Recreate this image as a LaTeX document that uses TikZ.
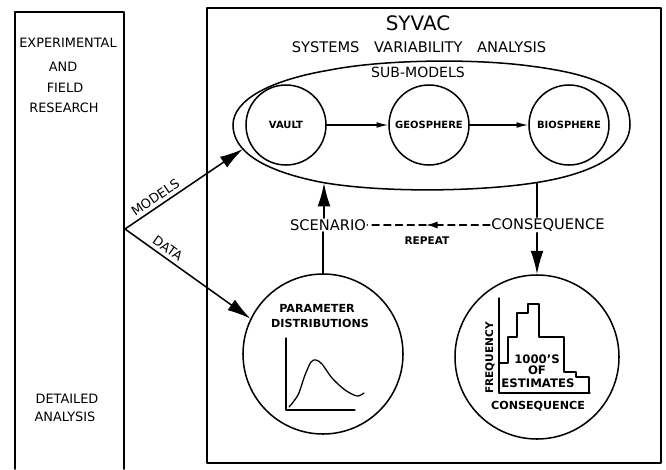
\documentclass[tikz,border=0pt]{standalone}
\usepackage{fontspec}
\setmainfont{DejaVu Sans}
\usetikzlibrary{arrows.meta}
\newcommand{\setfs}[1]{\fontsize{#1}{#1}\selectfont}

\begin{document}
\begin{tikzpicture}[line cap=round,line join=round,x=0.03cm,y=-0.03cm,
	box/.style={line width=1.4pt},
	sub/.style={circle,draw,line width=1.3pt,minimum size=2.4cm,inner sep=0pt,font=\setfs{8.5}\bfseries},
	ball/.style={circle,draw,line width=1.3pt,inner sep=0pt},
	txt/.style={inner sep=1pt,font=\setfs{12.5}},
	side/.style={inner sep=1pt,font=\setfs{11}},
	tiny/.style={inner sep=1pt,font=\setfs{9}\bfseries},
	lbl/.style={above=3pt,sloped,inner sep=0pt,font=\setfs{11}},
	bigtip/.style={line width=1.3pt,-{Latex[length=20pt,width=11pt]}},
	smalltip/.style={line width=1.1pt,-{Latex[length=10pt,width=5pt]}}]
	\useasboundingbox (0,0) rectangle (666,469);
	% frames
	\draw [box] (15,469) -- (15,12) -- (124,12) -- (124,469);
	\draw [box] (207,8) rectangle (661,463);
	\node [side] (exp) at (68,43) {EXPERIMENTAL};
	\node [side] (and) at (63,67) {AND};
	\node [side] (field) at (65,88) {FIELD};
	\node [side] (res) at (64,108) {RESEARCH};
	\node [side] (det) at (67,399) {DETAILED};
	\node [side] (ana) at (65,417) {ANALYSIS};
	\node [inner sep=1pt,font=\setfs{17}] (syvac) at (418,23) {SYVAC};
	\node [txt] (sva) at (419,47) {SYSTEMS\hspace{1em}VARIABILITY\hspace{1em}ANALYSIS};
	\node [inner sep=1pt,font=\setfs{12}] (submod) at (418,72) {SUB-MODELS};
	% sub-models
	\draw [line width=1.3pt] (233,125) .. controls (233,150) and (260,170) .. (320,182)
		.. controls (380,193) and (480,192) .. (540,182)
		.. controls (600,172) and (630,150) .. (630,125)
		.. controls (630,90) and (600,75) .. (530,66)
		.. controls (470,58) and (380,60) .. (330,70)
		.. controls (270,80) and (233,100) .. (233,125) -- cycle;
	\coordinate (subin) at (243,149);
	\coordinate (subbot) at (324,183);
	\coordinate (subout) at (537,183);
	\node [sub] (vault) at (286,125) {VAULT};
	\node [sub] (geo) at (429,125) {GEOSPHERE};
	\node [sub] (bio) at (569,125) {BIOSPHERE};
	\draw [smalltip] (vault) -- (geo);
	\draw [smalltip] (geo) -- (bio);
	% inputs
	\coordinate (src) at (125,229);
	\node [ball,minimum size=4.8cm] (param) at (323,354) {};
	\draw [bigtip] (src) -- node[pos=0.3,lbl] {MODELS} (subin);
	\draw [bigtip] (src) -- node[pos=0.3,lbl] {DATA} (param.154);
	% loop
	\node [txt] (scen) at (328,225) {SCENARIO};
	\node [txt] (cons) at (548,225) {CONSEQUENCE};
	\draw [line width=1.3pt] (param.north) -- (scen.south -| param.north);
	\draw [bigtip] (scen.north -| subbot) -- (subbot);
	\coordinate (rep) at (426,225);
	\draw [line width=1.1pt,dash pattern=on 6pt off 4pt,-{Latex[length=10pt,width=6pt]}] (cons.west) -- (rep);
	\draw [line width=1.1pt,dash pattern=on 6pt off 4pt] (rep) -- (scen.east);
	\node [tiny] (repeat) at (427,241) {REPEAT};
	\node [ball,minimum size=4.92cm] (result) at (537,357) {};
	\draw [line width=1.3pt] (subout) -- (subout |- cons.north);
	\draw [bigtip] (cons.south -| subout) -- (result.north);
	% parameter distributions
	\node [inner sep=1pt,font=\setfs{9.5}\bfseries] (parlab) at (317,308) {PARAMETER};
	\node [inner sep=1pt,font=\setfs{9.5}\bfseries] (dislab) at (320,323) {DISTRIBUTIONS};
	\draw [line width=1.1pt] (286,338) -- (286,410) -- (355,410);
	\draw [line width=1.1pt] plot[smooth] coordinates {(289,407) (298,395) (305,375) (311,362) (316,360) (322,364) (332,378) (345,390) (357,396) (364,393)};
	% histogram
	\draw [line width=1.1pt] (499,298) -- (499,393) -- (590,393);
	\draw [line width=1.1pt] (499,363) -- (508,363) -- (508,337) -- (517,337) -- (517,313) -- (528,313) -- (528,304) -- (539,304) -- (539,337) -- (564,337) -- (564,372) -- (576,372) -- (576,377) -- (589,377) -- (589,393);
	\node [inner sep=1pt,font=\setfs{10}\bfseries] (thou) at (537,359) {1000'S};
	\node [inner sep=1pt,font=\setfs{10}\bfseries] (of) at (537,370) {OF};
	\node [inner sep=1pt,font=\setfs{10}\bfseries] (est) at (538,383) {ESTIMATES};
	\node [inner sep=1pt,font=\setfs{9}\bfseries,rotate=90] (freq) at (490,358) {FREQUENCY};
	\node [inner sep=1pt,font=\setfs{9.5}\bfseries] (conslab) at (538,406) {CONSEQUENCE};
\end{tikzpicture}
\end{document}
